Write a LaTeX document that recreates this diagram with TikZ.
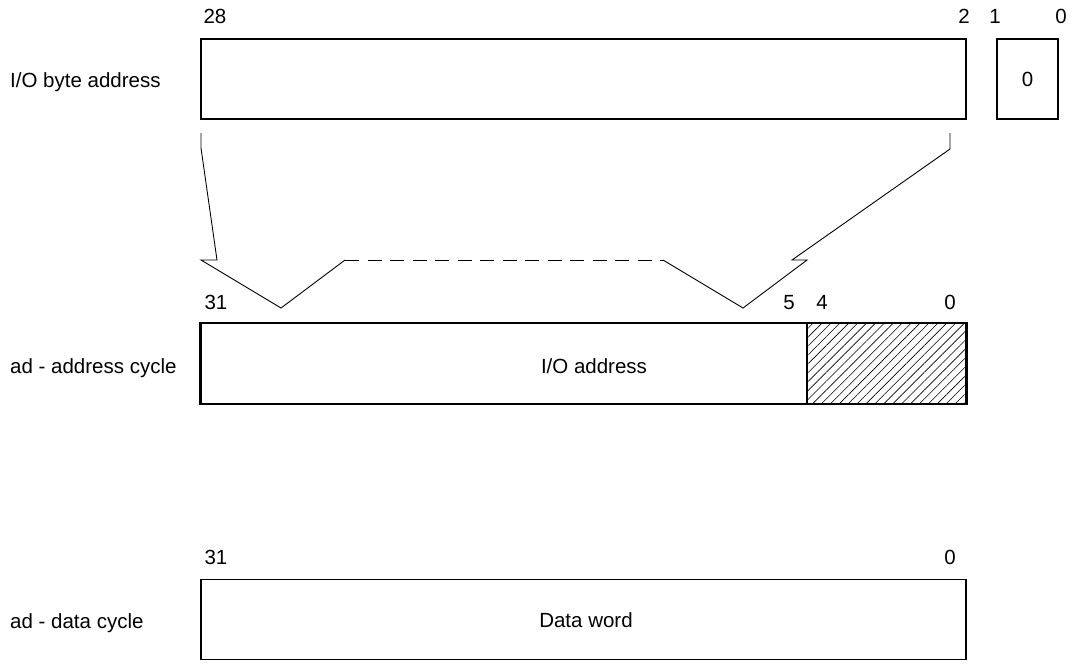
\documentclass[tikz,border=0pt]{standalone}
\usepackage{fontspec}
\setmainfont{Liberation Sans}
\usetikzlibrary{positioning,patterns.meta}
\tikzstyle{field}=[rectangle, draw, line width=1.6pt, minimum height=80pt, inner sep=0pt]
\tikzstyle{bitno}=[anchor=base, inner sep=0pt]
\tikzstyle{rowname}=[anchor=base west, inner sep=0pt]
\tikzstyle{fold}=[line width=0.9pt, line join=miter]

\begin{document}
\begin{tikzpicture}[x=1pt, y=-1pt, font=\fontsize{20.5}{24}\selectfont]
\useasboundingbox (0,0) rectangle (1073,664);
%Nodes
\node[field, minimum width=765pt]  (bytead)  at (583.5,79) {};
\node[field, minimum width=61pt]   (lowbits) at (1027.5,79) {0};
\node[field, minimum width=765pt]  (adcyc)   at (583.5,363.5) {};
\node[field, minimum width=765pt]  (datcyc)  at (583.5,619.5) {};
\node (ioad) at (594,366) {I/O address};
\node (dword) at (586,620) {Data word};
\node[rowname] (n1) at (10,87)  {I/O byte address};
\node[rowname] (n2) at (10,373) {ad - address cycle};
\node[rowname] (n3) at (10,628) {ad - data cycle};
%bit numbers
\node[bitno] (b28) at (215,23) {28};
\node[bitno] (b2)  at (964,23) {2};
\node[bitno] (b1)  at (995,23) {1};
\node[bitno] (b0)  at (1061,23) {0};
\node[bitno] (a31) at (216,309) {31};
\node[bitno] (a5)  at (789,309) {5};
\node[bitno] (a4)  at (822,309) {4};
\node[bitno] (a0)  at (950,309) {0};
\node[bitno] (d31) at (216,564) {31};
\node[bitno] (d0)  at (950,564) {0};
%hatched low bits of the address cycle
\draw[line width=1.6pt, pattern={Lines[angle=45, distance=6.3pt, line width=0.6pt]}]
  (807,323.5) rectangle (adcyc.south east);
\draw[field] (adcyc.north west) rectangle (adcyc.south east);
%Lines
\coordinate (lt) at (201,133);
\coordinate (rt) at (950,133);
\coordinate (dl) at (345,260);
\coordinate (dr) at (663,260);
\draw[fold] (lt) -- ++(0,15) -- (217,260) -- (201,260) -- (281,308) -- (dl);
\draw[fold, dash pattern=on 14pt off 8.5pt] (dl) -- (dr);
\draw[fold] (dr) -- (743,308) -- (807,260) -- (792,260) -- (950,149) -- (rt);
\end{tikzpicture}
\end{document}
